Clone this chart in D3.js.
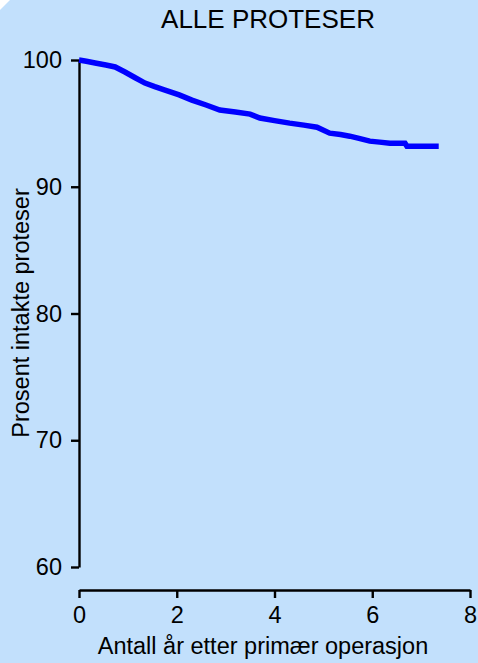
<!DOCTYPE html>
<html><head><meta charset="utf-8">
<script src="https://cdn.jsdelivr.net/npm/d3@7"></script>
<style>html,body{margin:0;padding:0;background:#fff;}svg{display:block;}</style>
</head><body>
<script>
const years = [0, 0.15, 0.33, 0.55, 0.74, 0.94, 1.15, 1.35, 1.55, 1.76, 2.05, 2.31, 2.6, 2.88, 3.2, 3.5, 3.7, 4.0, 4.31, 4.6, 4.87, 5.13, 5.35, 5.54, 5.75, 5.95, 6.15, 6.36, 6.67, 6.71, 7.36];
const survival = [100, 99.9, 99.76, 99.6, 99.45, 99.05, 98.6, 98.18, 97.9, 97.63, 97.25, 96.84, 96.45, 96.05, 95.9, 95.73, 95.42, 95.22, 95.02, 94.86, 94.7, 94.23, 94.12, 93.99, 93.8, 93.6, 93.52, 93.44, 93.44, 93.2, 93.2];
const xTicks = [0, 2, 4, 6, 8];
const yTicks = [60, 70, 80, 90, 100];
const title = "ALLE PROTESER";
const xLabel = "Antall år etter primær operasjon";
const yLabel = "Prosent intakte proteser";

const W = 478, H = 663;
const FONT = "'Liberation Sans', Arial, sans-serif";
const FS = 23.5;
const svg = d3.select("body").append("svg").attr("width", W).attr("height", H)
  .style("font-family", FONT);
svg.append("polygon").attr("points", `10,0 ${W},0 ${W},${H} 0,${H} 0,10`).attr("fill", "#C2E0FC");

const x = d3.scaleLinear().domain([0, 8]).range([79, 470]);
const y = d3.scaleLinear().domain([60, 100]).range([567, 60]);

svg.append("text").attr("x", 268).attr("y", 28).attr("text-anchor", "middle")
  .style("font-size", "26px").attr("fill", "#000").text(title);

const yAxis = svg.append("g").attr("transform", "translate(79,0)")
  .call(d3.axisLeft(y).tickValues(yTicks).tickSize(8).tickPadding(9).tickSizeOuter(0));
const xAxis = svg.append("g").attr("transform", "translate(0,590)")
  .call(d3.axisBottom(x).tickValues(xTicks).tickSize(8).tickPadding(8).tickSizeOuter(0));
[yAxis, xAxis].forEach(g => {
  g.attr("font-size", FS).attr("font-family", FONT);
  g.select(".domain").attr("stroke", "#000").attr("stroke-width", 2.4);
  g.selectAll(".tick line").attr("stroke", "#000").attr("stroke-width", 2.4);
  g.selectAll(".tick text").attr("fill", "#000")
    .style("font-size", FS + "px").style("font-family", FONT);
});

svg.append("text").attr("x", 263).attr("y", 654).attr("text-anchor", "middle")
  .style("font-size", FS + "px").attr("fill", "#000").text(xLabel);
svg.append("text").attr("transform", "translate(29,313) rotate(-90)").attr("text-anchor", "middle")
  .style("font-size", FS + "px").attr("fill", "#000").text(yLabel);

const line = d3.line().x((d, i) => x(years[i])).y((d, i) => y(survival[i])).curve(d3.curveLinear);
svg.append("path").datum(survival).attr("d", line).attr("fill", "none")
  .attr("stroke", "#0000FF").attr("stroke-width", 5.5);
</script>
</body></html>
